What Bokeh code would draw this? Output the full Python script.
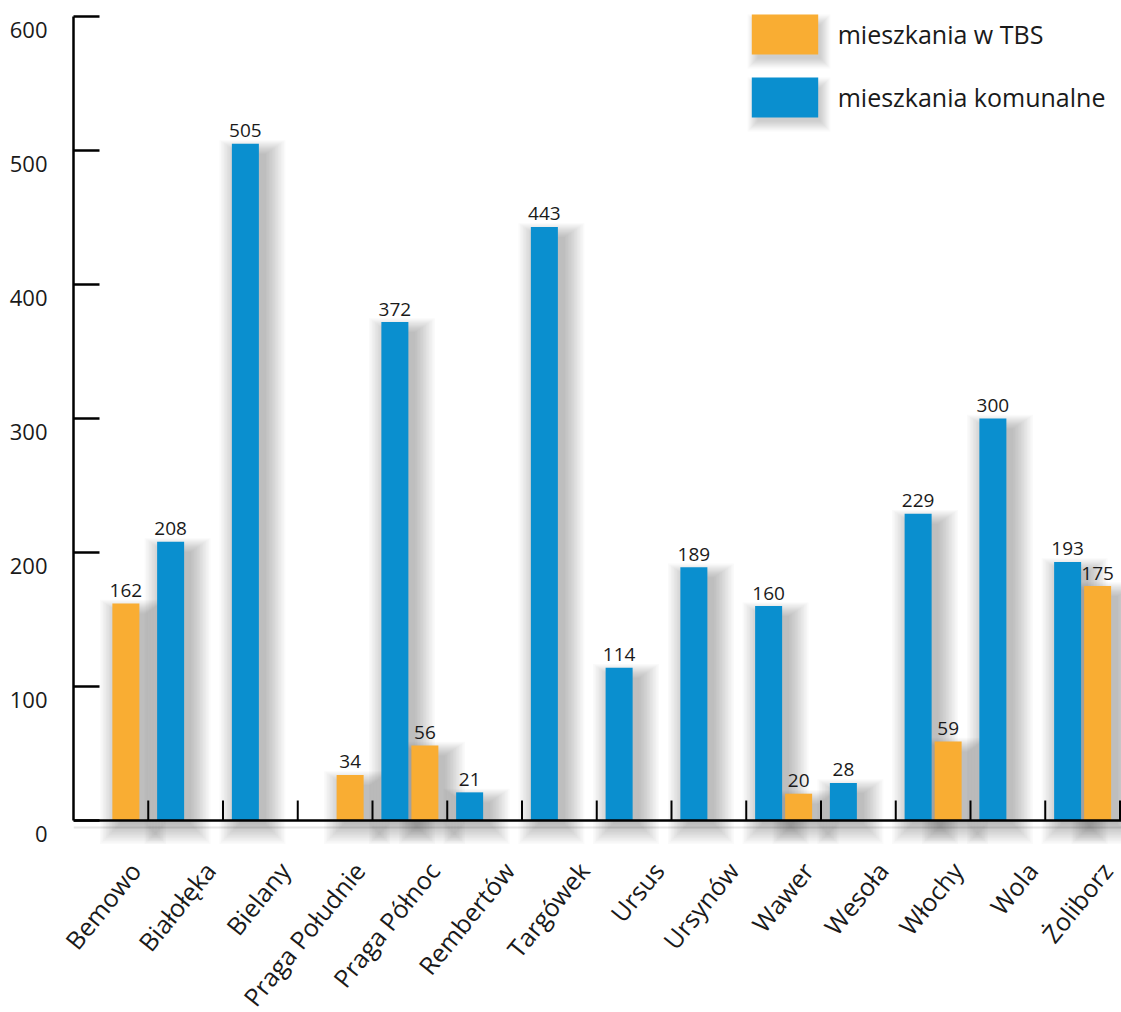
import numpy as np
from bokeh.plotting import figure
from bokeh.models import (Range1d, FixedTicker, LinearAxis, Span, ColumnDataSource,
                          Legend, LegendItem)
from bokeh.core.properties import value
from bokeh.embed import file_html
from bokeh.resources import INLINE

# --- data -------------------------------------------------------------------
districts = ["Bemowo", "Białołęka", "Bielany", "Praga Południe", "Praga Północ",
             "Rembertów", "Targówek", "Ursus", "Ursynów", "Wawer", "Wesoła",
             "Włochy", "Wola", "Żoliborz"]
tbs = [162, None, None, 34, 56, None, None, None, None, 20, None, 59, None, 175]
komunalne = [None, 208, 505, None, 372, 21, 443, 114, 189, 160, 28, 229, 300, 193]
y_ticks = [0, 100, 200, 300, 400, 500, 600]
series_names = ["mieszkania w TBS", "mieszkania komunalne"]

# --- styling ------------------------------------------------------------------
ORANGE = "#F9AD33"
BLUE = "#0A8FCF"
INK = "#1a1a1a"
FONT = "Open Sans"

W, H = 1121, 1012
LEFT = 73          # pixel column of the value axis
TOP_PX = 16        # pixel row of the top tick
BASE_PX = 820      # pixel row of zero
SLOT_PX = 74.75    # width of one district slot

px_per_y = (BASE_PX - TOP_PX) / 600.0
y_lo = -(H - BASE_PX) / px_per_y
y_hi = 600 + TOP_PX / px_per_y
x_hi = (W - LEFT) / SLOT_PX


def dx(px):
    return px / SLOT_PX


def dy(px):
    return px / px_per_y


def sx(px):
    """screen column -> data x"""
    return (px - LEFT) / SLOT_PX


def sy(px):
    """screen row -> data y"""
    return (BASE_PX - px) / px_per_y


BAR_W = dx(27)
SHIFT = dx(15)

p = figure(width=W, height=H, x_range=Range1d(0, x_hi), y_range=Range1d(y_lo, y_hi),
           x_axis_location=None, toolbar_location=None, output_backend="svg",
           min_border_left=LEFT, min_border_right=0, min_border_top=0, min_border_bottom=0,
           outline_line_color=None, background_fill_color="white",
           border_fill_color="white")
p.grid.visible = False


def bars(vals, shift):
    idx = [i for i, v in enumerate(vals) if v is not None]
    return dict(x=[i + 0.5 + shift for i in idx], top=[vals[i] for i in idx])


kom = bars(komunalne, -SHIFT)
tb = bars(tbs, SHIFT)

# soft drop shadows behind the bars (stacked translucent layers)
LAYERS = 14
for k in range(LAYERS):
    g = 1.5 * k
    for d in (kom, tb):
        xs = np.array(d["x"])
        tops = np.array(d["top"], dtype=float)
        p.quad(left=xs - BAR_W / 2 + dx(7 - g), right=xs + BAR_W / 2 + dx(7 + g),
               top=tops - dy(10 - 0.7 * g), bottom=np.full(len(xs), -dy(4 + g)),
               fill_color="#333333", fill_alpha=0.024, line_color=None)

# soft shadows behind the legend swatches
for k in range(10):
    g = 1.1 * k
    for top_px in (14, 77):
        p.quad(left=sx(751 + 6 - g), right=sx(817 + 3 + g),
               top=sy(top_px + 10 - g), bottom=sy(top_px + 40 + 4 + g),
               fill_color="#333333", fill_alpha=0.024, line_color=None)

# faint shadow line under the category axis
p.add_layout(Span(location=-dy(7), dimension="width", line_color="#e6e6e6",
                  line_width=2, level="underlay"))

r_kom = p.vbar(x="x", top="top", width=BAR_W, bottom=0, source=ColumnDataSource(kom),
               fill_color=BLUE, line_color=None)
r_tbs = p.vbar(x="x", top="top", width=BAR_W, bottom=0, source=ColumnDataSource(tb),
               fill_color=ORANGE, line_color=None)

# value labels above the bars
for d in (kom, tb):
    p.text(x=d["x"], y=[t + dy(13) for t in d["top"]], text=[str(t) for t in d["top"]],
           text_align="center", text_baseline="alphabetic", text_color=INK,
           text_font=value(FONT), text_font_size="19px")

# category axis: baseline and separators between districts
p.add_layout(Span(location=0, dimension="width", line_color="black", line_width=2.5))
n = len(districts)
p.segment(x0=list(range(1, n + 1)), y0=[0] * n, x1=list(range(1, n + 1)),
          y1=[dy(20)] * n, line_color="black", line_width=2)

# rotated district names (the renderer draws this angle as a 45-degree slope)
lab_x = [i + 0.5 + dx(24) for i in range(n)]
lab_y = -dy(45)
p.text(x=lab_x, y=[lab_y] * n, text=districts,
       angle=np.deg2rad(51), text_align="right", text_baseline="alphabetic",
       text_color=INK, text_font=value(FONT), text_font_size="25px", level="annotation")

# value axis: line and inward ticks
yax = p.yaxis[0]
yax.ticker = FixedTicker(ticks=y_ticks)
yax.bounds = (0, 600)
yax.major_tick_in = 26
yax.major_tick_out = 0
yax.minor_tick_in = 0
yax.minor_tick_out = 0
yax.axis_line_width = 2.5
yax.axis_line_color = "black"
yax.major_tick_line_width = 2.5
yax.major_tick_line_color = "black"
yax.major_label_overrides = {t: "" for t in y_ticks}
yax.major_label_standoff = 0

# value axis labels, set slightly below their ticks
p.extra_y_ranges = {"labels": Range1d(y_lo + dy(13), y_hi + dy(13))}
lab_ax = LinearAxis(y_range_name="labels", ticker=FixedTicker(ticks=y_ticks),
                    axis_line_color=None, major_tick_line_color=None,
                    minor_tick_line_color=None, major_label_standoff=20,
                    major_label_text_font=FONT, major_label_text_font_size="22px",
                    major_label_text_color=INK)
p.add_layout(lab_ax, "left")

legend = Legend(items=[LegendItem(label=series_names[0], renderers=[r_tbs]),
                       LegendItem(label=series_names[1], renderers=[r_kom])],
                location=(669.7, 890), orientation="vertical",
                glyph_width=83, glyph_height=50, spacing=13, label_standoff=12,
                padding=0, margin=0, border_line_color=None, background_fill_alpha=0,
                label_text_font=FONT, label_text_font_size="25px",
                label_text_color=INK)
p.add_layout(legend)

open("out.html", "w").write(file_html(p, INLINE))
